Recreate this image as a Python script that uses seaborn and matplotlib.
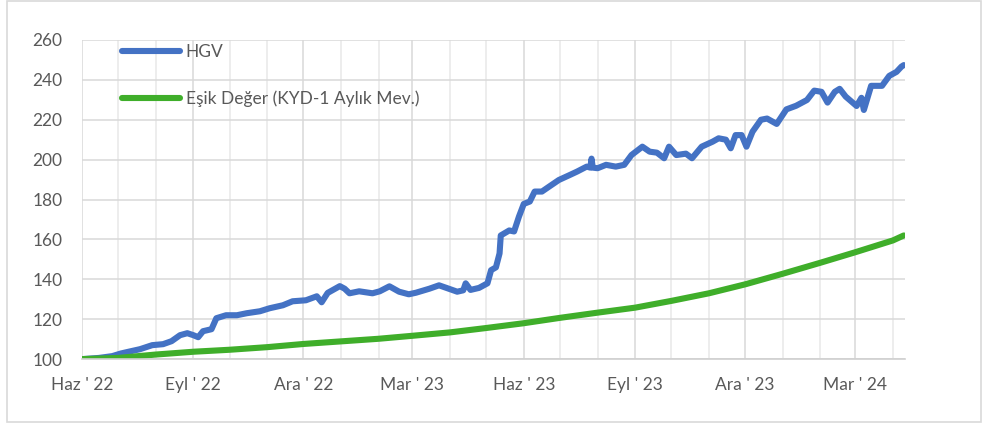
import pandas as pd
import matplotlib.pyplot as plt
import matplotlib.dates as mdates
from matplotlib.patches import Rectangle
import seaborn as sns

hgv_dates = [
    "2022-06-01", "2022-06-08", "2022-06-15", "2022-06-26", "2022-07-03", "2022-07-08",
    "2022-07-19", "2022-07-29", "2022-08-07", "2022-08-14", "2022-08-21", "2022-08-27",
    "2022-09-01", "2022-09-05", "2022-09-09", "2022-09-16", "2022-09-20", "2022-09-28",
    "2022-10-07", "2022-10-15", "2022-10-26", "2022-11-03", "2022-11-14", "2022-11-22",
    "2022-12-03", "2022-12-12", "2022-12-16", "2022-12-21", "2022-12-31", "2023-01-04",
    "2023-01-08", "2023-01-16", "2023-01-27", "2023-02-02", "2023-02-10", "2023-02-18",
    "2023-02-26", "2023-03-04", "2023-03-15", "2023-03-23", "2023-03-31", "2023-04-07",
    "2023-04-12", "2023-04-14", "2023-04-18", "2023-04-25", "2023-05-02", "2023-05-05",
    "2023-05-09", "2023-05-12", "2023-05-13", "2023-05-20", "2023-05-24", "2023-05-28",
    "2023-06-01", "2023-06-06", "2023-06-10", "2023-06-16", "2023-06-22", "2023-06-30",
    "2023-07-09", "2023-07-15", "2023-07-23", "2023-07-26", "2023-07-27", "2023-07-28",
    "2023-08-01", "2023-08-08", "2023-08-16", "2023-08-23", "2023-08-29", "2023-09-07",
    "2023-09-13", "2023-09-19", "2023-09-25", "2023-09-29", "2023-10-05", "2023-10-13",
    "2023-10-18", "2023-10-26", "2023-11-04", "2023-11-09", "2023-11-15", "2023-11-19",
    "2023-11-23", "2023-11-28", "2023-12-02", "2023-12-07", "2023-12-14", "2023-12-19",
    "2023-12-27", "2024-01-04", "2024-01-12", "2024-01-21", "2024-01-27", "2024-02-02",
    "2024-02-07", "2024-02-13", "2024-02-17", "2024-02-22", "2024-03-02", "2024-03-06",
    "2024-03-08", "2024-03-14", "2024-03-23", "2024-03-29", "2024-04-04", "2024-04-08",
    "2024-04-10",
]
hgv_values = [
    100.0, 100.3, 100.6, 101.5, 102.8, 103.5,
    105.0, 107.0, 107.5, 109.0, 112.0, 113.0,
    112.0, 111.0, 114.0, 115.0, 120.5, 122.0,
    122.0, 123.0, 124.0, 125.5, 127.0, 129.0,
    129.5, 131.5, 128.5, 133.2, 136.6, 135.3,
    133.0, 134.0, 133.0, 134.0, 136.5, 133.8,
    132.5, 133.3, 135.3, 137.0, 135.3, 133.8,
    134.5, 138.0, 134.7, 135.7, 138.0, 144.6,
    146.0, 153.0, 162.0, 164.5, 164.0, 171.4,
    177.8, 179.0, 184.0, 184.0, 186.5, 189.8,
    192.3, 194.0, 196.5, 196.0, 200.5, 196.0,
    195.7, 197.4, 196.5, 197.4, 202.3, 206.5,
    204.0, 203.5, 200.7, 206.5, 202.3, 203.0,
    200.7, 206.5, 209.0, 210.7, 210.0, 205.7,
    212.3, 212.3, 206.5, 214.0, 220.0, 220.6,
    217.9, 225.2, 227.0, 229.9, 234.6, 234.0,
    228.6, 234.0, 235.5, 231.6, 226.9, 231.0,
    224.9, 237.0, 237.0, 242.0, 244.0, 246.6,
    247.4,
]

esik_dates = [
    "2022-06-01", "2022-07-01", "2022-08-01", "2022-09-01", "2022-10-01", "2022-11-01",
    "2022-12-01", "2023-01-01", "2023-02-01", "2023-03-01", "2023-04-01", "2023-05-01",
    "2023-06-01", "2023-07-01", "2023-08-01", "2023-09-01", "2023-10-01", "2023-11-01",
    "2023-12-01", "2024-01-01", "2024-02-01", "2024-03-01", "2024-04-01", "2024-04-10",
]
esik_values = [
    100.0, 100.6, 102.3, 103.7, 104.7, 106.0,
    107.6, 108.9, 110.2, 111.7, 113.4, 115.6,
    118.0, 120.7, 123.3, 125.8, 129.2, 133.0,
    137.5, 142.8, 148.3, 153.6, 159.5, 162.0,
]

tick_dates = ["2022-06-01", "2022-09-01", "2022-12-01", "2023-03-01",
              "2023-06-01", "2023-09-01", "2023-12-01", "2024-03-01"]
tick_labels = ["Haz ' 22", "Eyl ' 22", "Ara ' 22", "Mar ' 23",
               "Haz ' 23", "Eyl ' 23", "Ara ' 23", "Mar ' 24"]

hgv = pd.DataFrame({"tarih": pd.to_datetime(hgv_dates), "deger": hgv_values})
esik = pd.DataFrame({"tarih": pd.to_datetime(esik_dates), "deger": esik_values})

sns.set_style("white")
plt.rcParams["font.family"] = ["Lato", "DejaVu Sans"]

fig = plt.figure(figsize=(9.88, 4.25), dpi=100)
ax = fig.add_axes([0.083, 0.155, 0.833, 0.751])

# outer frame like the excel chart area
fig.patches.append(Rectangle((7 / 988, 3 / 425), 974 / 988, 421 / 425,
                             transform=fig.transFigure, fill=False,
                             edgecolor="#d9d9d9", linewidth=1.2))

sns.lineplot(data=hgv, x="tarih", y="deger", ax=ax, color="#4472c4",
             linewidth=4.4, label="HGV")
sns.lineplot(data=esik, x="tarih", y="deger", ax=ax, color="#3fae2a",
             linewidth=4.4, label="Eşik Değer (KYD-1 Aylık Mev.)")

ax.set_xlim(pd.Timestamp("2022-06-01"), pd.Timestamp("2024-04-11"))
ax.set_ylim(100, 260)
ax.set_yticks(range(100, 261, 20))

ax.set_xticks(pd.to_datetime(tick_dates))
ax.set_xticklabels(tick_labels)
ax.xaxis.set_minor_locator(mdates.MonthLocator())

ax.grid(True, which="major", color="#d9d9d9", linewidth=1.1)
ax.grid(True, which="minor", axis="x", color="#e8e8e8", linewidth=1.1)
ax.set_axisbelow(True)

for side in ["top", "right", "left"]:
    ax.spines[side].set_visible(False)
ax.spines["bottom"].set_color("#d0d0d0")
ax.spines["bottom"].set_linewidth(1.2)

ax.tick_params(axis="y", length=0, pad=14, labelsize=12.5, labelcolor="#595959")
ax.tick_params(axis="x", which="major", length=5, width=1, color="#d0d0d0",
               pad=8, labelsize=12.5, labelcolor="#595959")
ax.tick_params(axis="x", which="minor", length=5, width=1, color="#d0d0d0")

ax.set_xlabel("")
ax.set_ylabel("")

leg = ax.legend(loc="upper left", bbox_to_anchor=(0.03, 1.035), frameon=False,
                handlelength=3.3, labelspacing=1.75, handletextpad=0.35,
                fontsize=12.5)
for t in leg.get_texts():
    t.set_color("#595959")

fig.savefig("out.png", dpi=100)
